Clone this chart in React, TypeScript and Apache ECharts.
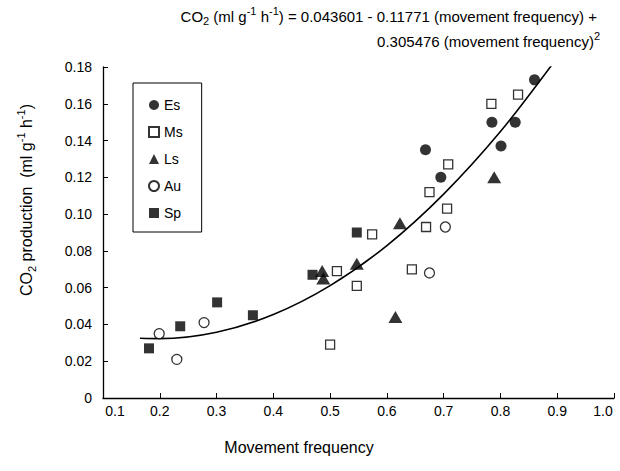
import React, { useEffect, useRef } from "react";
import * as echarts from "echarts";

// Es (filled circle)
const esX = [0.668, 0.695, 0.785, 0.801, 0.826, 0.860];
const esY = [0.135, 0.120, 0.150, 0.137, 0.150, 0.173];
// Ms (open square)
const msX = [0.500, 0.512, 0.547, 0.574, 0.644, 0.669, 0.675, 0.706, 0.708, 0.784, 0.831];
const msY = [0.029, 0.069, 0.061, 0.089, 0.070, 0.093, 0.112, 0.103, 0.127, 0.160, 0.165];
// Ls (filled triangle)
const lsX = [0.486, 0.488, 0.547, 0.615, 0.623, 0.789];
const lsY = [0.069, 0.065, 0.073, 0.044, 0.095, 0.120];
// Au (open circle)
const auX = [0.199, 0.230, 0.278, 0.675, 0.703];
const auY = [0.035, 0.021, 0.041, 0.068, 0.093];
// Sp (filled square)
const spX = [0.181, 0.236, 0.301, 0.364, 0.469, 0.547];
const spY = [0.027, 0.039, 0.052, 0.045, 0.067, 0.090];

// fitted curve
const fitX = [0.165, 0.2, 0.3, 0.4, 0.5, 0.6, 0.7, 0.8, 0.895];
const fitY = [0.0325, 0.0323, 0.0358, 0.0454, 0.0611, 0.0829, 0.1109, 0.1449, 0.1830];

const seriesNames = ["Es", "Ms", "Ls", "Au", "Sp"];
const xTicks = { min: 0.1, max: 1.0, interval: 0.1 };
const yTicks = { min: 0, max: 0.18, interval: 0.02 };

const FONT = "'Liberation Sans', Arial, Helvetica, sans-serif";

const zip = (xs: number[], ys: number[]) => xs.map((x, i) => [x, ys[i]]);

export default function App() {
  const ref = useRef<HTMLDivElement>(null);
  useEffect(() => {
    if (!ref.current) return;
    const chart = echarts.init(ref.current, null, { renderer: "svg" });
    const filled = { color: "#000" };
    const hollow = { color: "#fff", borderColor: "#000", borderWidth: 1.3 };
    const baseText = { fontFamily: FONT, color: "#000" };
    const rich15 = {
      n: { ...baseText, fontSize: 15, lineHeight: 21 },
      sub: { ...baseText, fontSize: 11, lineHeight: 11, verticalAlign: "bottom" },
      sup: { ...baseText, fontSize: 11, lineHeight: 11, verticalAlign: "top" },
    };
    const rich16 = {
      n: { ...baseText, fontSize: 16, lineHeight: 22 },
      sub: { ...baseText, fontSize: 11, lineHeight: 11, verticalAlign: "bottom" },
      sup: { ...baseText, fontSize: 11, lineHeight: 11, verticalAlign: "top" },
    };
    chart.setOption({
      animation: false,
      backgroundColor: "#fff",
      grid: { left: 103, right: 6, top: 67, bottom: 73, containLabel: false },
      legend: {
        orient: "vertical",
        left: 133,
        top: 83,
        data: seriesNames,
        itemWidth: 10,
        itemHeight: 10,
        itemGap: 11,
        padding: [14, 19, 11, 15],
        borderColor: "#000",
        borderWidth: 1,
        backgroundColor: "#fff",
        textStyle: { fontFamily: FONT, fontSize: 14, color: "#000", lineHeight: 16 },
      },
      xAxis: {
        type: "value",
        min: xTicks.min,
        max: xTicks.max,
        interval: xTicks.interval,
        splitLine: { show: false },
        axisLine: { onZero: false, lineStyle: { color: "#000", width: 1.3 } },
        axisTick: { inside: true, length: 5, lineStyle: { color: "#000", width: 1 } },
        axisLabel: {
          showMinLabel: true,
          showMaxLabel: true,
          margin: 6,
          fontFamily: FONT,
          fontSize: 14,
          color: "#000",
          formatter: (v: number) => {
            const s = v.toFixed(1);
            if (Math.abs(v - 0.1) < 1e-6) return "{f|" + s + "}";
            if (Math.abs(v - 1.0) < 1e-6) return "{l|" + s + "}";
            return s;
          },
          rich: {
            f: { fontFamily: FONT, fontSize: 14, color: "#000", padding: [0, 0, 0, 24] },
            l: { fontFamily: FONT, fontSize: 14, color: "#000", padding: [0, 22, 0, 0] },
          },
        },
      },
      yAxis: {
        type: "value",
        min: yTicks.min,
        max: yTicks.max,
        interval: yTicks.interval,
        splitLine: { show: false },
        axisLine: { show: true, onZero: false, lineStyle: { color: "#000", width: 1.3 } },
        axisTick: { show: true, inside: true, length: 5, lineStyle: { color: "#000", width: 1 } },
        axisLabel: {
          margin: 11,
          fontFamily: FONT,
          fontSize: 14,
          color: "#000",
          formatter: (v: number) => (v === 0 ? "0" : v.toFixed(2)),
        },
      },
      graphic: [
        {
          type: "text",
          x: 597,
          y: 16,
          style: {
            text: "{n|CO}{sub|2}{n| (ml g}{sup|-1}{n| h}{sup|-1}{n|) = 0.043601 - 0.11771 (movement frequency) +}",
            rich: rich15,
            align: "right",
            verticalAlign: "middle",
          },
        },
        {
          type: "text",
          x: 600,
          y: 41,
          style: {
            text: "{n|0.305476 (movement frequency)}{sup|2}",
            rich: rich15,
            align: "right",
            verticalAlign: "middle",
          },
        },
        {
          type: "text",
          x: 26,
          y: 200,
          rotation: Math.PI / 2,
          style: {
            text: "{n|CO}{sub|2}{n| production  (ml g}{sup|-1}{n| h}{sup|-1}{n|)}",
            rich: rich16,
            align: "center",
            verticalAlign: "middle",
          },
        },
        {
          type: "text",
          x: 299,
          y: 447,
          style: {
            text: "Movement frequency",
            fontFamily: FONT,
            fontSize: 16,
            fill: "#000",
            align: "center",
            verticalAlign: "middle",
          },
        },
      ],
      series: [
        {
          name: "fit",
          type: "line",
          data: zip(fitX, fitY),
          smooth: 0.3,
          showSymbol: false,
          symbol: "none",
          lineStyle: { color: "#000", width: 1.6 },
          z: 1,
          silent: true,
        },
        { name: "Es", type: "scatter", data: zip(esX, esY), symbol: "circle", symbolSize: 11, itemStyle: filled, z: 3 },
        { name: "Ms", type: "scatter", data: zip(msX, msY), symbol: "rect", symbolSize: 9, itemStyle: hollow, z: 3 },
        { name: "Ls", type: "scatter", data: zip(lsX, lsY), symbol: "triangle", symbolSize: [14, 12], itemStyle: filled, z: 3 },
        { name: "Au", type: "scatter", data: zip(auX, auY), symbol: "circle", symbolSize: 10, itemStyle: hollow, z: 3 },
        { name: "Sp", type: "scatter", data: zip(spX, spY), symbol: "rect", symbolSize: 10, itemStyle: filled, z: 3 },
      ],
    });
    return () => chart.dispose();
  }, []);
  return (
    <div
      ref={ref}
      style={{ position: "fixed", left: 0, top: 0, width: 620, height: 471, background: "#fff" }}
    />
  );
}
